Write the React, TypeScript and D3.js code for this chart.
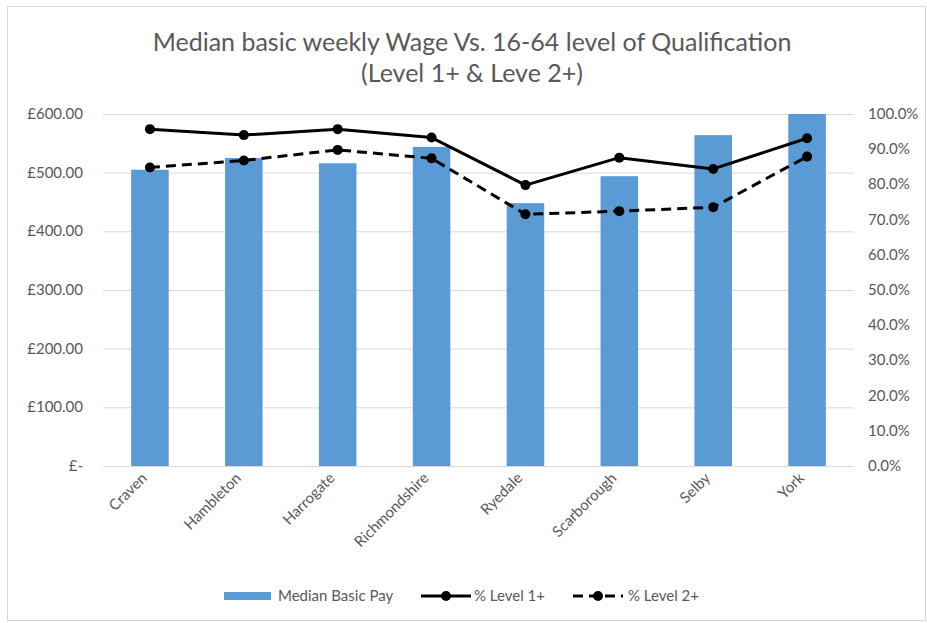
import React, { useEffect, useRef } from 'react';
import * as d3 from 'd3';

const districts = ['Craven', 'Hambleton', 'Harrogate', 'Richmondshire', 'Ryedale', 'Scarborough', 'Selby', 'York'];
const medianPay = [505, 525, 516, 544, 448, 494, 564, 600];
const level1 = [95.7, 94.0, 95.7, 93.3, 79.8, 87.6, 84.4, 93.1];
const level2 = [84.8, 86.8, 89.8, 87.4, 71.5, 72.4, 73.5, 87.9];
const payTicks = [0, 100, 200, 300, 400, 500, 600];
const pctTicks = [0, 10, 20, 30, 40, 50, 60, 70, 80, 90, 100];

const W = 927, H = 623;
const FONT = 'Lato, "Open Sans", sans-serif';
const TXT = '#595959';

const App = () => {
  const ref = useRef<SVGSVGElement>(null);

  useEffect(() => {
    const svg = d3.select(ref.current);
    svg.selectAll('*').remove();

    const left = 103, right = 854, top = 114, bottom = 466;

    // chart border
    svg.append('rect')
      .attr('x', 7.5).attr('y', 6.5).attr('width', W - 9).attr('height', H - 9)
      .attr('fill', '#fff').attr('stroke', '#d9d9d9');

    const title = svg.append('text')
      .attr('text-anchor', 'middle').attr('fill', TXT)
      .style('font-family', FONT).style('font-size', '25px');
    title.append('tspan').attr('x', 472).attr('y', 51).text('Median basic weekly Wage Vs. 16-64 level of Qualification');
    title.append('tspan').attr('x', 472).attr('y', 82).text('(Level 1+ & Leve 2+)');

    const x = d3.scaleBand().domain(districts).range([left, right]).paddingInner(0.6).paddingOuter(0.3);
    const yPay = d3.scaleLinear().domain([0, 600]).range([bottom, top]);
    const yPct = d3.scaleLinear().domain([0, 100]).range([bottom, top]);

    // gridlines
    svg.append('g').selectAll('line').data(payTicks).join('line')
      .attr('x1', left).attr('x2', right)
      .attr('y1', d => yPay(d) + 0.5).attr('y2', d => yPay(d) + 0.5)
      .attr('stroke', '#d9d9d9').attr('stroke-width', 1);

    // left axis labels
    svg.append('g').selectAll('text').data(payTicks).join('text')
      .attr('x', 83).attr('y', d => yPay(d) + 5)
      .attr('text-anchor', 'end').attr('fill', TXT)
      .style('font-family', FONT).style('font-size', '15px')
      .text(d => d === 0 ? '£-' : '£' + d3.format('.2f')(d));

    // right axis labels
    svg.append('g').selectAll('text').data(pctTicks).join('text')
      .attr('x', 868).attr('y', d => yPct(d) + 5)
      .attr('text-anchor', 'start').attr('fill', TXT)
      .style('font-family', FONT).style('font-size', '15px')
      .text(d => d3.format('.1f')(d) + '%');

    // bars
    svg.append('g').selectAll('rect').data(medianPay).join('rect')
      .attr('x', (d, i) => x(districts[i])!)
      .attr('width', x.bandwidth())
      .attr('y', d => yPay(d))
      .attr('height', d => bottom - yPay(d))
      .attr('fill', '#5b9bd5');

    // axis line
    svg.append('line')
      .attr('x1', left).attr('x2', right).attr('y1', bottom + 0.5).attr('y2', bottom + 0.5)
      .attr('stroke', '#d9d9d9');

    // category labels
    svg.append('g').selectAll('text').data(districts).join('text')
      .attr('transform', d => `translate(${x(d)! + x.bandwidth() / 2 - 2},${bottom + 13}) rotate(-45)`)
      .attr('text-anchor', 'end').attr('fill', TXT)
      .style('font-family', FONT).style('font-size', '15px')
      .text(d => d);

    const cx = (i: number) => x(districts[i])! + x.bandwidth() / 2;
    const line = d3.line<number>().x((d, i) => cx(i)).y(d => yPct(d));

    const drawSeries = (vals: number[], dash: string | null) => {
      svg.append('path').datum(vals)
        .attr('d', line).attr('fill', 'none').attr('stroke', '#000')
        .attr('stroke-width', 3).attr('stroke-linejoin', 'round')
        .attr('stroke-dasharray', dash);
      svg.append('g').selectAll('circle').data(vals).join('circle')
        .attr('cx', (d, i) => cx(i)).attr('cy', d => yPct(d)).attr('r', 5)
        .attr('fill', '#000');
    };
    drawSeries(level2, '10,6');
    drawSeries(level1, null);

    // legend
    const ly = 596;
    const lg = svg.append('g');
    lg.append('rect').attr('x', 224).attr('y', ly - 4).attr('width', 47).attr('height', 8).attr('fill', '#5b9bd5');
    lg.append('text').attr('x', 278).attr('y', ly + 5).attr('fill', TXT)
      .style('font-family', FONT).style('font-size', '15px').text('Median Basic Pay');

    lg.append('line').attr('x1', 421).attr('x2', 471).attr('y1', ly).attr('y2', ly)
      .attr('stroke', '#000').attr('stroke-width', 3);
    lg.append('circle').attr('cx', 446).attr('cy', ly).attr('r', 5).attr('fill', '#000');
    lg.append('text').attr('x', 474).attr('y', ly + 5).attr('fill', TXT)
      .style('font-family', FONT).style('font-size', '15px').text('% Level 1+');

    lg.append('line').attr('x1', 573).attr('x2', 623).attr('y1', ly).attr('y2', ly)
      .attr('stroke', '#000').attr('stroke-width', 3).attr('stroke-dasharray', '10,6');
    lg.append('circle').attr('cx', 598).attr('cy', ly).attr('r', 5).attr('fill', '#000');
    lg.append('text').attr('x', 628).attr('y', ly + 5).attr('fill', TXT)
      .style('font-family', FONT).style('font-size', '15px').text('% Level 2+');
  }, []);

  return (
    <svg ref={ref} width={W} height={H}
      style={{ position: 'absolute', left: 0, top: 0, background: '#fff' }} />
  );
};

export default App;
